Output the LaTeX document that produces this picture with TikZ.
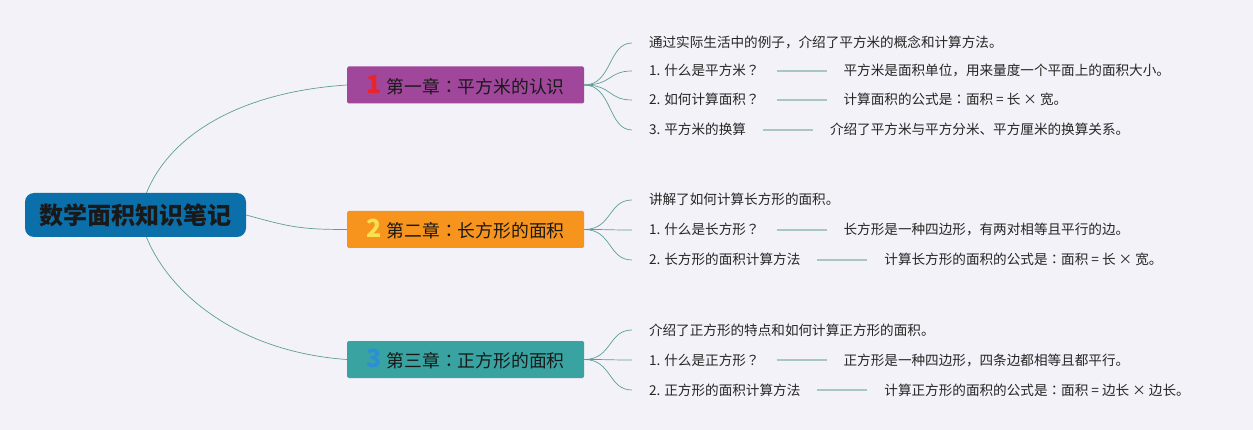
\documentclass[tikz,border=0pt]{standalone}
\usepackage{fontspec}
\setmainfont{Noto Sans CJK SC}
\newfontfamily\jpfont{Noto Sans CJK JP}
\usepackage{xcolor}
\definecolor{bgLav}{HTML}{F2F2F8}
\definecolor{rootBlue}{HTML}{0B6FAA}
\definecolor{chapPurple}{HTML}{A0479B}
\definecolor{chapOrange}{HTML}{F7941D}
\definecolor{chapTeal}{HTML}{38A3A1}
\definecolor{numRed}{HTML}{E8242C}
\definecolor{numYellow}{HTML}{F8E150}
\definecolor{numBlue}{HTML}{2B8FD8}
\definecolor{branchCol}{HTML}{5F9E96}
\definecolor{tieCol}{HTML}{A9C6C2}
\usetikzlibrary{positioning}
\tikzset{
    rootbox/.style={fill=rootBlue,rounded corners=9pt,minimum width=221pt,minimum height=44pt,
        inner sep=0pt,font=\fontsize{24}{26}\selectfont\bfseries,text=black!90},
    chapbox/.style={rounded corners=1.5pt,minimum width=237pt,minimum height=37pt,
        inner sep=0pt,font=\fontsize{17.8}{19}\selectfont,text=black!90},
    leaf/.style={anchor=west,inner sep=0pt,outer xsep=17pt,text height=11.5pt,text depth=1.5pt,
        font=\fontsize{13.6}{15}\selectfont,text=black!85},
    branch/.style={draw=branchCol,line width=0.7pt},
    tie/.style={draw=tieCol,line width=1.6pt}
}
\newcommand{\chapnum}[2]{{\fontsize{25}{25}\selectfont\bfseries\color{#1}#2}\hspace{5pt}}
% centred colon and question mark
\newcommand{\qmk}{{\jpfont ？}}
\newcommand{\cln}{{\jpfont ：}}

\begin{document}
\begin{tikzpicture}[x=1pt,y=-1pt]
  % canvas
  \fill[bgLav] (0,0) rectangle (1253,430);
  \useasboundingbox (0,0) rectangle (1253,430);

  % root and chapters
  \node[rootbox] (root) at (135.5,215) {数学面积知识笔记};
  \node[chapbox,fill=chapPurple] (c1) at (465.5,85) {\chapnum{numRed}{1}第一章\cln 平方米的认识};
  \node[chapbox,fill=chapOrange] (c2) at (465.5,229.5) {\chapnum{numYellow}{2}第二章\cln 长方形的面积};
  \node[chapbox,fill=chapTeal]   (c3) at (465.5,359.5) {\chapnum{numBlue}{3}第三章\cln 正方形的面积};

  % root to chapters
  \draw[branch] ([xshift=11pt]root.north) .. controls (170,135) and (240,92) .. (c1.west);
  \draw[branch] (root.east) .. controls (290,227) and (300,229.5) .. (c2.west);
  \draw[branch] ([xshift=11pt]root.south) .. controls (170,295) and (240,352) .. (c3.west);

  % chapter one
  \node[leaf] (l11) at (632,43) {通过实际生活中的例子，介绍了平方米的概念和计算方法。};
  \node[leaf] (l12) at (632,71) {1. 什么是平方米\qmk};
  \node[leaf] (l13) at (632,100) {2. 如何计算面积\qmk};
  \node[leaf] (l14) at (632,130) {3. 平方米的换算};
  \node[leaf,right=50pt of l12] (d12) {平方米是面积单位，用来量度一个平面上的面积大小。};
  \node[leaf,right=50pt of l13] (d13) {计算面积的公式是\cln 面积 = 长 × 宽。};
  \node[leaf,right=50pt of l14] (d14) {介绍了平方米与平方分米、平方厘米的换算关系。};

  % chapter two
  \node[leaf] (l21) at (632,200) {讲解了如何计算长方形的面积。};
  \node[leaf] (l22) at (632,230) {1. 什么是长方形\qmk};
  \node[leaf] (l23) at (632,260) {2. 长方形的面积计算方法};
  \node[leaf,right=50pt of l22] (d22) {长方形是一种四边形，有两对相等且平行的边。};
  \node[leaf,right=50pt of l23] (d23) {计算长方形的面积的公式是\cln 面积 = 长 × 宽。};

  % chapter three
  \node[leaf] (l31) at (632,330) {介绍了正方形的特点和如何计算正方形的面积。};
  \node[leaf] (l32) at (632,360) {1. 什么是正方形\qmk};
  \node[leaf] (l33) at (632,390) {2. 正方形的面积计算方法};
  \node[leaf,right=50pt of l32] (d32) {正方形是一种四边形，四条边都相等且都平行。};
  \node[leaf,right=50pt of l33] (d33) {计算正方形的面积的公式是\cln 面积 = 边长 × 边长。};

  % fans from chapters to leaves
  \foreach \l in {l11,l12,l13,l14}
    \draw[branch] (c1.east) .. controls +(28,0) and +(-24,0) .. (\l.west);
  \foreach \l in {l21,l22,l23}
    \draw[branch] (c2.east) .. controls +(28,0) and +(-24,0) .. (\l.west);
  \foreach \l in {l31,l32,l33}
    \draw[branch] (c3.east) .. controls +(28,0) and +(-24,0) .. (\l.west);

  % ties between question and answer
  \foreach \a/\b in {l12/d12,l13/d13,l14/d14,l22/d22,l23/d23,l32/d32,l33/d33}
    \draw[tie] (\a) -- (\b);
\end{tikzpicture}
\end{document}
